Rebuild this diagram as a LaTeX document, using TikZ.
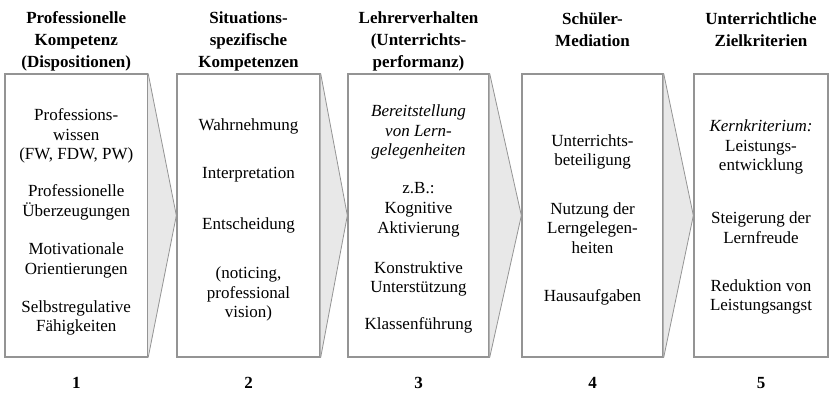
\documentclass[tikz,border=0pt]{standalone}
\usepackage{fontspec}
\setmainfont{Liberation Serif}
\usetikzlibrary{positioning}

\begin{document}
\begin{tikzpicture}[x=1pt, y=-1pt,
			stagenode/.style={draw=black!42, line width=1.3pt, fill=white, inner sep=0pt, minimum height=283pt},
			flowarrow/.style={draw=black!42, line width=0.8pt, fill=black!9},
			headnode/.style={align=center, font=\fontsize{17}{22}\selectfont\bfseries},
			textnode/.style={align=center, font=\fontsize{17}{19.8}\selectfont},
			emphnode/.style={align=center, font=\fontsize{17}{19.8}\selectfont\itshape},
			numnode/.style={font=\fontsize{17}{20}\selectfont\bfseries}
			]
			
			\useasboundingbox (0,0) rectangle (829,394);
			
			\node[stagenode, minimum width=142.5pt] at (76.25, 215.5) (b1) {};
			\node[stagenode, minimum width=143pt] at (248.5, 215.5) (b2) {};
			\node[stagenode, minimum width=141pt] at (418.5, 215.5) (b3) {};
			\node[stagenode, minimum width=141pt] at (592.5, 215.5) (b4) {};
			\node[stagenode, minimum width=134pt] at (761, 215.5) (b5) {};
			
			\fill[black!9] (b1.north east) -- (b2.west) -- (b1.south east) -- cycle;
			\fill[black!9] (b2.north east) -- (b3.west) -- (b2.south east) -- cycle;
			\fill[black!9] (b3.north east) -- (b4.west) -- (b3.south east) -- cycle;
			\fill[black!9] (b4.north east) -- (b5.west) -- (b4.south east) -- cycle;
			\draw[flowarrow, fill=none] (b1.north east) -- (b2.west) -- (b1.south east);
			\draw[flowarrow, fill=none] (b2.north east) -- (b3.west) -- (b2.south east);
			\draw[flowarrow, fill=none] (b3.north east) -- (b4.west) -- (b3.south east);
			\draw[flowarrow, fill=none] (b4.north east) -- (b5.west) -- (b4.south east);
			
			\node[headnode] at (76.25, 41) (h1) {Professionelle\\Kompetenz\\(Dispositionen)};
			\node[headnode] at (248.5, 41) (h2) {Situations-\\spezifische\\Kompetenzen};
			\node[headnode] at (418.5, 41) (h3) {Lehrerverhalten\\(Unterrichts-\\performanz)};
			\node[headnode] at (592.5, 30) (h4) {Schüler-\\Mediation};
			\node[headnode] at (761, 30) (h5) {Unterrichtliche\\Zielkriterien};
			
			\node[textnode] at (76.25, 136) (p11) {Professions-\\wissen\\(FW, FDW, PW)};
			\node[textnode] at (76.25, 202) (p12) {Professionelle\\Überzeugungen};
			\node[textnode] at (76.25, 260.5) (p13) {Motivationale\\Orientierungen};
			\node[textnode] at (76.25, 318) (p14) {Selbstregulative\\Fähigkeiten};
			
			\node[textnode] at (248.5, 126) (p21) {Wahrnehmung};
			\node[textnode] at (248.5, 175) (p22) {Interpretation};
			\node[textnode] at (248.5, 225) (p23) {Entscheidung};
			\node[textnode] at (248.5, 294) (p24) {(noticing,\\professional\\vision)};
			
			\node[emphnode] at (418.5, 132) (p31) {Bereitstellung\\von Lern-\\gelegenheiten};
			\node[textnode] at (418.5, 210) (p32) {z.B.:\\Kognitive\\Aktivierung};
			\node[textnode] at (418.5, 279) (p33) {Konstruktive\\Unterstützung};
			\node[textnode] at (418.5, 325) (p34) {Klassenführung};
			
			\node[textnode] at (592.5, 152) (p41) {Unterrichts-\\beteiligung};
			\node[textnode] at (592.5, 228) (p42) {Nutzung der\\Lerngelegen-\\heiten};
			\node[textnode] at (592.5, 297) (p43) {Hausaufgaben};
			
			\node[textnode] at (761, 147) (p51) {\textit{Kernkriterium:}\\Leistungs-\\entwicklung};
			\node[textnode] at (761, 227.5) (p52) {Steigerung der\\Lernfreude};
			\node[textnode] at (761, 297) (p53) {Reduktion von\\Leistungsangst};
			
			\node[numnode] at (76.25, 383) (n1) {1};
			\node[numnode] at (248.5, 383) (n2) {2};
			\node[numnode] at (418.5, 383) (n3) {3};
			\node[numnode] at (592.5, 383) (n4) {4};
			\node[numnode] at (761, 383) (n5) {5};
		\end{tikzpicture}
\end{document}
